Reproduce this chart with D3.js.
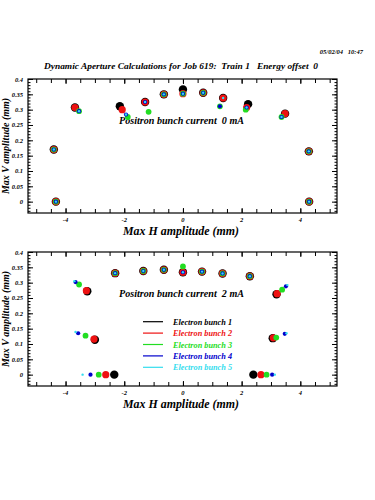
<!DOCTYPE html>
<html>
<head>
<meta charset="utf-8">
<script src="https://cdn.jsdelivr.net/npm/d3@7"></script>
<style>
  body { margin: 0; background: #fff; }
  svg { display: block; }
  text { font-family: "Liberation Serif", "Times New Roman", serif; font-weight: bold; font-style: italic; white-space: pre; }
</style>
</head>
<body>
<svg></svg>
<script>
var width = 375;
var height = 500;

// bunch names and colours
var bunches = ["Electron bunch 1", "Electron bunch 2", "Electron bunch 3", "Electron bunch 4", "Electron bunch 5"];
var bunchColors = ["#000000", "#ee1111", "#22dd22", "#0000cc", "#33ddee"];

var xTickLabels = [-4, -2, 0, 2, 4];
var yTickLabels = [0, 0.05, 0.1, 0.15, 0.2, 0.25, 0.3, 0.35, 0.4];

// positron current 0 mA : H and V per bunch (13 scan angles)
var h0 = [
  [-4.33, -4.40, -3.68, -2.15, -1.29, -0.65, 0, 0.69, 1.37, 2.22, 3.48, 4.29, 4.30],
  [-4.33, -4.40, -3.68, -2.07, -1.29, -0.65, 0, 0.69, 1.37, 2.17, 3.48, 4.29, 4.30],
  [-4.33, -4.40, -3.54, -1.88, -1.17, -0.65, 0, 0.69, 1.26, 2.14, 3.36, 4.29, 4.30],
  [-4.33, -4.40, -3.54, -1.94, -1.29, -0.65, 0, 0.69, 1.26, 2.17, 3.36, 4.29, 4.30],
  [-4.33, -4.40, -3.54, -1.94, -1.29, -0.65, 0, 0.69, 1.37, 2.17, 3.36, 4.29, 4.30]
];
var v0 = [
  [0, 0.170, 0.307, 0.311, 0.325, 0.350, 0.366, 0.355, 0.338, 0.318, 0.287, 0.164, 0],
  [0, 0.170, 0.307, 0.300, 0.325, 0.350, 0.352, 0.355, 0.338, 0.307, 0.287, 0.164, 0],
  [0, 0.170, 0.295, 0.276, 0.293, 0.350, 0.352, 0.355, 0.311, 0.300, 0.276, 0.164, 0],
  [0, 0.170, 0.295, 0.284, 0.325, 0.350, 0.352, 0.355, 0.311, 0.307, 0.276, 0.164, 0],
  [0, 0.170, 0.295, 0.284, 0.325, 0.350, 0.352, 0.355, 0.338, 0.307, 0.276, 0.164, 0]
];

// positron current 2 mA
var h2 = [
  [-2.34, -3.00, -3.26, -2.31, -1.35, -0.65, 0, 0.65, 1.35, 2.28, 3.19, 3.06, 2.40],
  [-2.63, -3.03, -3.29, -2.31, -1.35, -0.65, 0, 0.65, 1.35, 2.28, 3.21, 3.08, 2.66],
  [-2.87, -3.32, -3.54, -2.31, -1.35, -0.65, 0, 0.65, 1.35, 2.28, 3.38, 3.18, 2.85],
  [-3.15, -3.57, -3.66, -2.31, -1.35, -0.65, 0, 0.65, 1.35, 2.28, 3.51, 3.47, 3.04],
  [-3.42, -3.66, -3.70, -2.31, -1.35, -0.65, 0, 0.65, 1.35, 2.28, 3.56, 3.53, 3.13]
];
var v2 = [
  [0, 0.114, 0.272, 0.331, 0.338, 0.342, 0.334, 0.336, 0.330, 0.321, 0.262, 0.119, 0],
  [0, 0.116, 0.274, 0.331, 0.338, 0.342, 0.334, 0.336, 0.330, 0.321, 0.264, 0.120, 0],
  [0, 0.127, 0.294, 0.331, 0.338, 0.342, 0.353, 0.336, 0.330, 0.321, 0.277, 0.121, 0],
  [0, 0.135, 0.302, 0.331, 0.338, 0.342, 0.334, 0.336, 0.330, 0.321, 0.288, 0.133, 0],
  [0, 0.139, 0.305, 0.331, 0.338, 0.342, 0.334, 0.336, 0.330, 0.321, 0.292, 0.135, 0]
];

var markerR = [4.2, 3.6, 2.9, 2.1, 1.2];

var svg = d3.select("svg")
  .attr("width", width)
  .attr("height", height);

svg.append("text")
  .attr("x", 363).attr("y", 54)
  .attr("text-anchor", "end")
  .attr("font-size", "6.5px")
  .text("05/02/04   10:47");

svg.append("text")
  .attr("x", 181).attr("y", 69)
  .attr("text-anchor", "middle")
  .attr("font-size", "8.5px")
  .attr("textLength", 274)
  .attr("lengthAdjust", "spacingAndGlyphs")
  .text("Dynamic Aperture Calculations for Job 619:  Train 1   Energy offset  0");

var x = d3.scaleLinear().domain([-5.28, 5.25]).range([28, 337]);

function drawPanel(top, bottom, hs, vs, label, withLegend) {
  var y = d3.scaleLinear().domain([-0.037, 0.4]).range([bottom, top]);
  var g = svg.append("g");

  // ticks on all four sides, pointing inward
  g.append("g").attr("transform", "translate(0," + bottom + ")")
    .call(d3.axisTop(x).tickValues(d3.range(-5, 5.01, 0.5)).tickSize(4).tickFormat(""));
  g.append("g").attr("transform", "translate(0," + top + ")")
    .call(d3.axisBottom(x).tickValues(d3.range(-5, 5.01, 0.5)).tickSize(4).tickFormat(""));
  g.append("g").attr("transform", "translate(0," + bottom + ")")
    .call(d3.axisTop(x).tickValues(xTickLabels).tickSize(5).tickFormat(""));
  g.append("g").attr("transform", "translate(0," + top + ")")
    .call(d3.axisBottom(x).tickValues(xTickLabels).tickSize(5).tickFormat(""));

  var yMinor = d3.range(-0.03, 0.401, 0.01);
  g.append("g").attr("transform", "translate(28,0)")
    .call(d3.axisRight(y).tickValues(yMinor).tickSize(2.5).tickFormat(""));
  g.append("g").attr("transform", "translate(337,0)")
    .call(d3.axisLeft(y).tickValues(yMinor).tickSize(2.5).tickFormat(""));
  g.append("g").attr("transform", "translate(28,0)")
    .call(d3.axisRight(y).tickValues(yTickLabels).tickSize(5).tickFormat(""));
  g.append("g").attr("transform", "translate(337,0)")
    .call(d3.axisLeft(y).tickValues(yTickLabels).tickSize(5).tickFormat(""));

  g.selectAll(".domain").remove();
  g.selectAll(".tick line").attr("stroke", "#000").attr("stroke-width", 1);

  g.append("rect")
    .attr("x", 28).attr("y", top)
    .attr("width", 309).attr("height", bottom - top)
    .attr("fill", "none").attr("stroke", "#000").attr("stroke-width", 1.2);

  // tick labels
  g.selectAll(".xl").data(xTickLabels).enter().append("text")
    .attr("x", function(d) { return x(d); })
    .attr("y", bottom + 9)
    .attr("text-anchor", "middle")
    .attr("font-size", "6.5px")
    .text(function(d) { return d; });

  g.selectAll(".yl").data(yTickLabels).enter().append("text")
    .attr("x", 23)
    .attr("y", function(d) { return y(d) + 2.5; })
    .attr("text-anchor", "end")
    .attr("font-size", "6.5px")
    .text(function(d) { return d; });

  g.append("text")
    .attr("x", 181).attr("y", bottom + 22)
    .attr("text-anchor", "middle")
    .attr("font-size", "12px")
    .attr("textLength", 116)
    .attr("lengthAdjust", "spacingAndGlyphs")
    .text("Max H amplitude (mm)");

  g.append("text")
    .attr("transform", "translate(9," + ((top + bottom) / 2) + ") rotate(-90)")
    .attr("text-anchor", "middle")
    .attr("font-size", "10px")
    .text("Max V amplitude (mm)");

  g.append("text")
    .attr("x", 119).attr("y", top + 45)
    .attr("font-size", "9.5px")
    .attr("textLength", 125)
    .attr("lengthAdjust", "spacingAndGlyphs")
    .text(label);

  // markers, bunch 1 first so the smaller ones sit on top
  hs.forEach(function(row, b) {
    g.selectAll(".m" + b)
      .data(row.map(function(h, i) { return [h, vs[b][i]]; }))
      .enter().append("circle")
      .attr("cx", function(d) { return x(d[0]); })
      .attr("cy", function(d) { return y(d[1]); })
      .attr("r", markerR[b])
      .style("fill", bunchColors[b]);
  });

  if (withLegend) {
    var legend = g.selectAll(".legend")
      .data(bunches).enter()
      .append("g")
      .attr("transform", function(d, i) { return "translate(143," + (321.7 + 11.4 * i) + ")"; });
    legend.append("line")
      .attr("x1", 0).attr("x2", 20)
      .attr("stroke", function(d, i) { return bunchColors[i]; })
      .attr("stroke-width", 1.2);
    legend.append("text")
      .attr("x", 30).attr("y", 3)
      .attr("font-size", "7.5px")
      .attr("textLength", 59)
      .attr("lengthAdjust", "spacingAndGlyphs")
      .style("fill", function(d, i) { return bunchColors[i]; })
      .text(function(d) { return d; });
  }
}

drawPanel(79, 213, h0, v0, "Positron bunch current  0 mA", false);
drawPanel(252, 386, h2, v2, "Positron bunch current  2 mA", true);
</script>
</body>
</html>
